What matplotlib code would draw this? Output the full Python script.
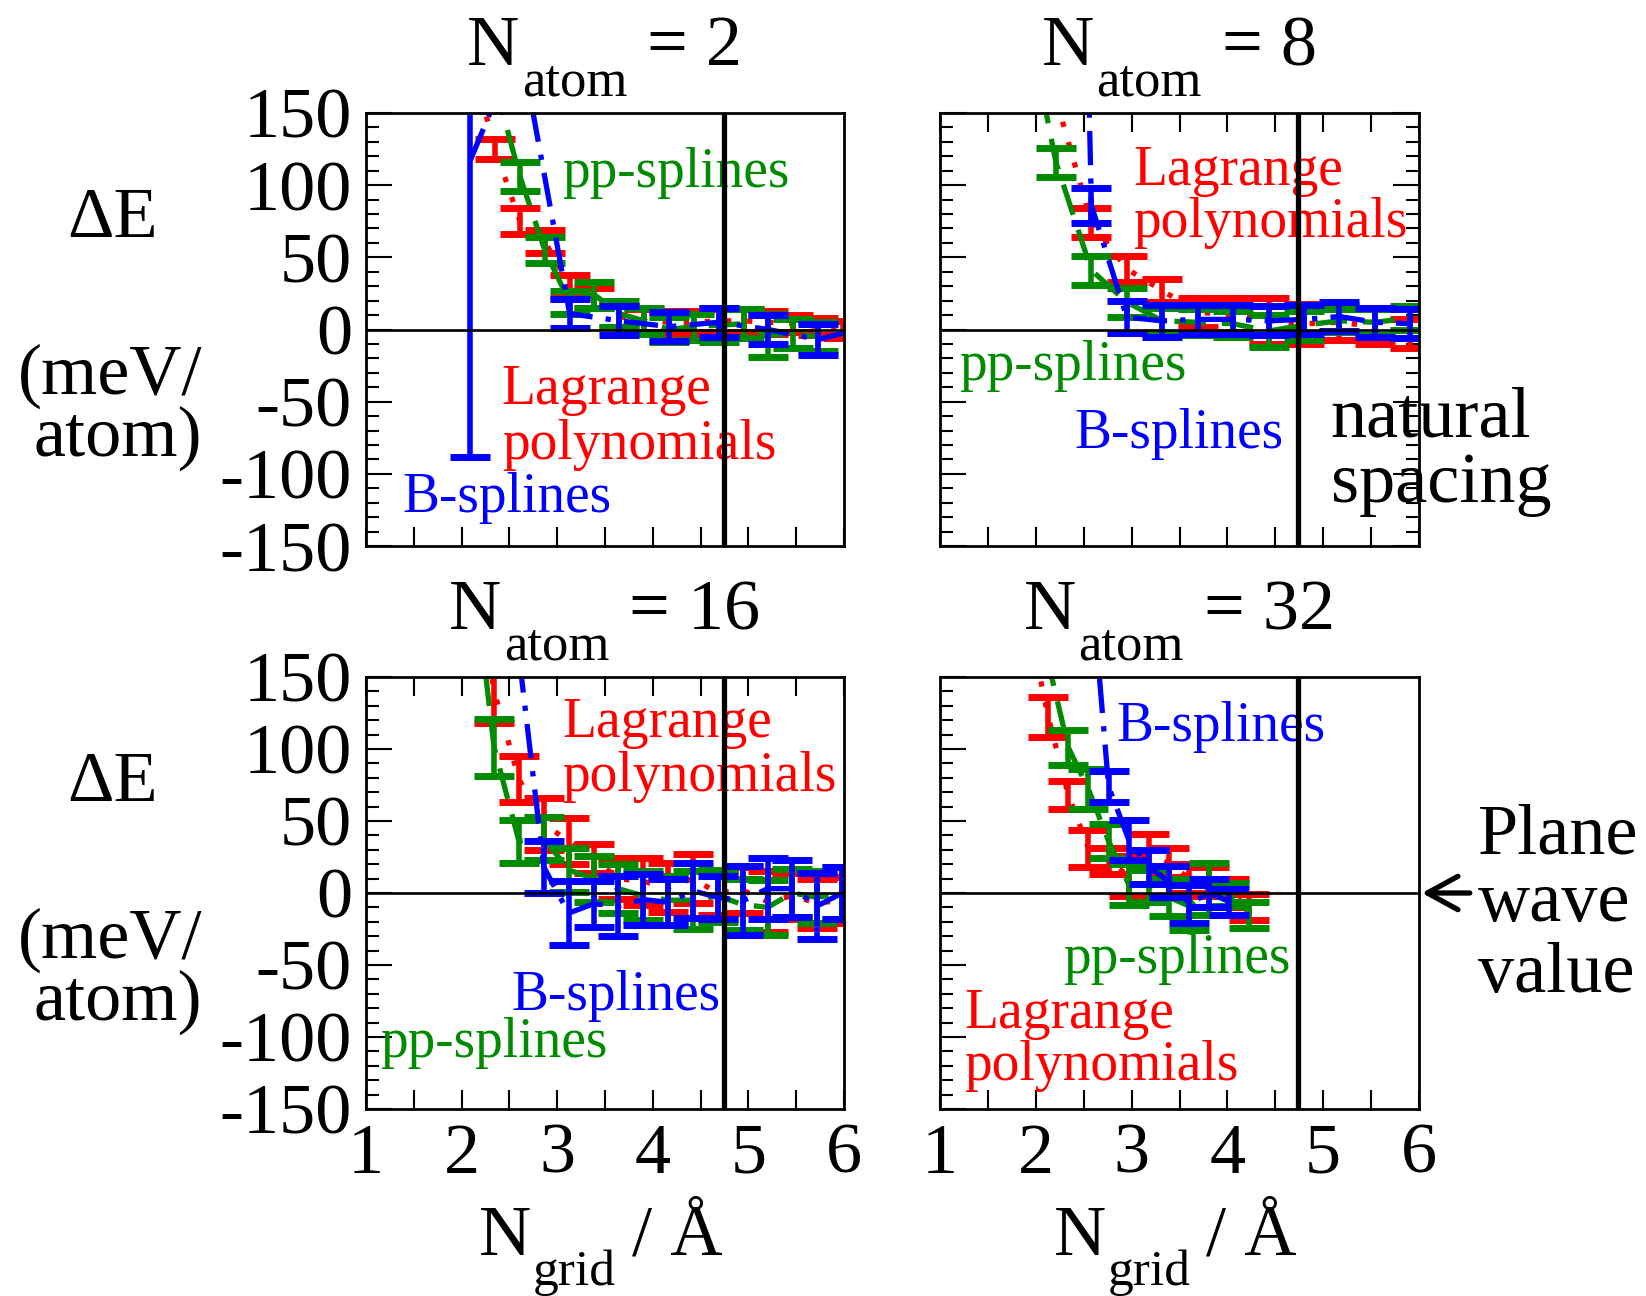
# plot.py
# Convergence of the energy difference vs grid density for four cell sizes

import numpy as np
import matplotlib.pyplot as plt

plt.rcParams['font.family'] = 'Liberation Serif'
plt.rcParams['axes.unicode_minus'] = False

RED = '#ff0000'
GREEN = '#008b00'
BLUE = '#0000ff'

natural_spacing = 4.74
atom_counts = [2, 8, 16, 32]

# N_atom = 2
p1_red_x = [2.09, 2.35, 2.61, 2.87, 3.13, 3.39, 3.65, 3.91, 4.17, 4.43, 4.69, 4.95, 5.21, 5.47, 5.73, 5.99]
p1_red_y = [190, 125, 75, 61, 30, 22, 9, 6, 5, 5, 6, 6, 5, 4, 2, 0]
p1_red_e = [12, 7, 9, 8, 8, 7, 7, 8, 8, 8, 8, 8, 8, 6, 6, 6]
p1_green_x = [2.35, 2.61, 2.87, 3.13, 3.39, 3.65, 3.91, 4.17, 4.43, 4.69, 4.95, 5.21, 5.47, 5.73]
p1_green_y = [170, 106, 55, 19, 24, 11, 6, 0, 2, 3, 4, -4, -3, -5]
p1_green_e = [12, 10, 9, 8, 9, 9, 9, 9, 9, 12, 10, 15, 10, 10]
p1_blue_x = [2.09, 2.61, 3.13, 3.65, 4.17, 4.69, 5.21, 5.73, 6.25]
p1_blue_y = [117, 200, 11, 6, 2, 5, 0, -7, 2]
p1_blue_e = [205, 15, 10, 10, 10, 10, 10, 11, 10]

# N_atom = 8
p2_red_x = [1.84, 2.21, 2.58, 2.95, 3.32, 3.69, 4.06, 4.43, 4.80, 5.17, 5.54, 5.91]
p2_red_y = [260, 160, 74, 42, 27, 12, 10, 6, 4, 5, 2, -3]
p2_red_e = [15, 6, 10, 9, 8, 10, 12, 16, 14, 12, 12, 10]
p2_green_x = [1.84, 2.21, 2.58, 2.95, 3.32, 3.69, 4.06, 4.43, 4.80, 5.17, 5.54, 5.91]
p2_green_y = [240, 116, 41, 19, 6, 5, 4, -1, 3, 6, 5, 8]
p2_green_e = [15, 10, 10, 10, 9, 9, 9, 11, 10, 8, 9, 8]
p2_blue_x = [2.21, 2.58, 2.95, 3.32, 3.69, 4.06, 4.43, 4.80, 5.17, 5.54, 5.91]
p2_blue_y = [1200, 86, 8.5, 6, 7, 7, 6, 7, 9, 5, 4]
p2_blue_e = [20, 12, 11, 11, 10, 10, 10, 10, 10, 10, 10]

# N_atom = 16
p3_red_x = [2.08, 2.34, 2.60, 2.86, 3.12, 3.38, 3.64, 3.90, 4.16, 4.42, 4.68, 4.94, 5.20, 5.46, 5.72, 5.98]
p3_red_y = [250, 140, 79, 48, 36, 24, 10, 8, 4, 10, 0, 2, -6, -2, -7, -5]
p3_red_e = [20, 22, 16, 18, 16, 10, 14, 16, 17, 17, 15, 16, 21, 16, 17, 16]
p3_green_x = [2.08, 2.34, 2.60, 2.86, 3.12, 3.38, 3.64, 3.90, 4.16, 4.42, 4.68, 4.94, 5.20, 5.46, 5.72, 5.98]
p3_green_y = [250, 101, 36, 38, 16, 10, 3, -2, -5, -5, -2, -8, -10, 0, -3, 0]
p3_green_e = [20, 20, 15, 15, 15, 16, 17, 17, 17, 20, 18, 18, 19, 17, 18, 18]
p3_blue_x = [2.34, 2.60, 2.86, 3.12, 3.38, 3.64, 3.90, 4.16, 4.42, 4.68, 4.94, 5.20, 5.46, 5.72, 5.98]
p3_blue_y = [800, 165, 18, -14, -7.5, -9, -4.5, -6.5, 1.5, -3, -5.5, 3, 3, -9, 0]
p3_blue_e = [20, 10, 18, 22, 16, 21, 18, 16, 19, 15, 24, 21, 20, 23, 18]

# N_atom = 32
p4_red_x = [1.92, 2.13, 2.34, 2.55, 2.76, 2.97, 3.18, 3.39, 3.60, 3.81, 4.02, 4.23]
p4_red_y = [190, 122, 68, 31, 22, 12, 30, 21, 10, 8, 0, -10]
p4_red_e = [15, 14, 10, 13, 9, 14, 11, 10, 10, 10, 10, 9]
p4_green_x = [1.92, 2.13, 2.34, 2.55, 2.76, 2.97, 3.18, 3.39, 3.60, 3.81, 4.02, 4.23]
p4_green_y = [230, 160, 101, 72, 36, 6, 5, -3, -9, 3, -1, -15]
p4_green_e = [15, 5, 12, 14, 12, 14, 11, 13, 17, 18, 8, 9]
p4_blue_x = [2.55, 2.76, 2.97, 3.18, 3.39, 3.60, 3.81, 4.02]
p4_blue_y = [240, 74, 37, 18, 8, -7.5, 0, -6]
p4_blue_e = [20, 11, 14, 12, 11, 13, 10, 9]

panels = [
    [(p1_red_x, p1_red_y, p1_red_e), (p1_green_x, p1_green_y, p1_green_e), (p1_blue_x, p1_blue_y, p1_blue_e)],
    [(p2_red_x, p2_red_y, p2_red_e), (p2_green_x, p2_green_y, p2_green_e), (p2_blue_x, p2_blue_y, p2_blue_e)],
    [(p3_red_x, p3_red_y, p3_red_e), (p3_green_x, p3_green_y, p3_green_e), (p3_blue_x, p3_blue_y, p3_blue_e)],
    [(p4_red_x, p4_red_y, p4_red_e), (p4_green_x, p4_green_y, p4_green_e), (p4_blue_x, p4_blue_y, p4_blue_e)],
]

colors = [RED, GREEN, BLUE]
styles = [(0, (1, 3)), (0, (6, 3)), (0, (6.5, 2.5, 1, 2.5))]

# label text, colour, x, y (data coords, baseline) for each panel
labels = [
    [('pp-splines', GREEN, 3.05, 99), ('Lagrange', RED, 2.42, -51.6),
     ('polynomials', RED, 2.42, -89.7), ('B-splines', BLUE, 1.38, -126.5)],
    [('Lagrange', RED, 3.02, 100), ('polynomials', RED, 3.02, 64),
     ('pp-splines', GREEN, 1.2, -35), ('B-splines', BLUE, 2.4, -82)],
    [('Lagrange', RED, 3.05, 108), ('polynomials', RED, 3.05, 71),
     ('B-splines', BLUE, 2.52, -81.5), ('pp-splines', GREEN, 1.15, -114)],
    [('B-splines', BLUE, 2.84, 105.7), ('pp-splines', GREEN, 2.29, -55.8),
     ('Lagrange', RED, 1.25, -94), ('polynomials', RED, 1.25, -130)],
]

W, H = 1646, 1296
fig = plt.figure(figsize=(W / 100, H / 100), dpi=100)

rects = [
    [366 / W, 1 - 546 / H, 478 / W, 433 / H],
    [940 / W, 1 - 546 / H, 479 / W, 433 / H],
    [366 / W, 1 - 1109 / H, 478 / W, 432 / H],
    [940 / W, 1 - 1109 / H, 479 / W, 432 / H],
]
axes = [fig.add_axes(r) for r in rects]


def panel_title(ax, n):
    shift = -18 * (len(str(n)) - 1)
    kw = dict(xy=(0.5, 1), xycoords='axes fraction', textcoords='offset pixels',
              ha='left', va='baseline', annotation_clip=False)
    ax.annotate('N', xytext=(-138 + shift, 48), fontsize=52, **kw)
    ax.annotate('atom', xytext=(-83 + shift, 18), fontsize=38, **kw)
    ax.annotate('= %d' % n, xytext=(42 + shift, 48), fontsize=52, **kw)


def grid_label(ax):
    kw = dict(xy=(0.5, 0), xycoords='axes fraction', textcoords='offset pixels',
              ha='left', va='baseline', annotation_clip=False)
    ax.annotate('N', xytext=(-126, -146), fontsize=52, **kw)
    ax.annotate('grid', xytext=(-72, -176), fontsize=37, **kw)
    ax.annotate('/ Å', xytext=(27, -146), fontsize=52, **kw)


for i, ax in enumerate(axes):
    for (x, y, e), c, ls in zip(panels[i], colors, styles):
        ax.errorbar(x, y, yerr=e, fmt='none', ecolor=c, elinewidth=4,
                    capsize=14.4, capthick=5)
        ax.plot(x, y, color=c, lw=3.8, linestyle=ls)

    ax.axhline(0, color='black', lw=1.9, zorder=5)
    ax.axvline(natural_spacing, color='black', lw=3.8, zorder=5)

    ax.set_xlim(1, 6)
    ax.set_ylim(-150, 150)
    ax.set_xticks([1, 2, 3, 4, 5, 6])
    ax.set_xticks(np.arange(1.5, 6, 1), minor=True)
    ax.set_yticks(np.arange(-150, 151, 50))
    ax.set_yticks(np.arange(-150, 151, 10), minor=True)

    top = i in (1, 2)
    right = i == 1
    ax.tick_params(which='both', direction='in', width=1.5, labelsize=52,
                   top=top, right=right, pad=10)
    ax.tick_params(axis='y', which='major', length=19)
    ax.tick_params(axis='y', which='minor', length=9.5)
    ax.tick_params(axis='x', which='both', length=14)
    if i % 2 == 1:
        ax.tick_params(labelleft=False)
    if i < 2:
        ax.tick_params(labelbottom=False)
    else:
        grid_label(ax)

    for sp in ax.spines.values():
        sp.set_linewidth(2)

    for text, c, tx, ty in labels[i]:
        ax.text(tx, ty, text, color=c, fontsize=40, ha='left', va='baseline')

    panel_title(ax, atom_counts[i])

# natural spacing note in the N_atom = 8 panel
axes[1].text(5.08, -74, 'natural', fontsize=52, ha='left', va='baseline')
axes[1].text(5.08, -119.5, 'spacing', fontsize=52, ha='left', va='baseline')

# y labels for both rows
for dy in (0, 564):
    fig.text(113 / W, 1 - (237 + dy) / H, 'ΔE', fontsize=52, ha='center', va='baseline')
    fig.text(110 / W, 1 - (394 + dy) / H, '(meV/', fontsize=52, ha='center', va='baseline')
    fig.text(118 / W, 1 - (456 + dy) / H, 'atom)', fontsize=52, ha='center', va='baseline')

# plane wave reference arrow
ax4 = axes[3]
ax4.annotate('', xy=(1.006, 0), xycoords=ax4.get_yaxis_transform(),
             xytext=(1.106, 0), textcoords=ax4.get_yaxis_transform(),
             arrowprops=dict(arrowstyle='->,head_length=0.55,head_width=0.3',
                             lw=3.8, color='black', mutation_scale=40,
                             shrinkA=0, shrinkB=0),
             annotation_clip=False)
for txt, base in (('Plane', 853), ('wave', 921), ('value', 992)):
    fig.text(1478 / W, 1 - base / H, txt, fontsize=52, ha='left', va='baseline')

fig.savefig('out.png', dpi=100)
